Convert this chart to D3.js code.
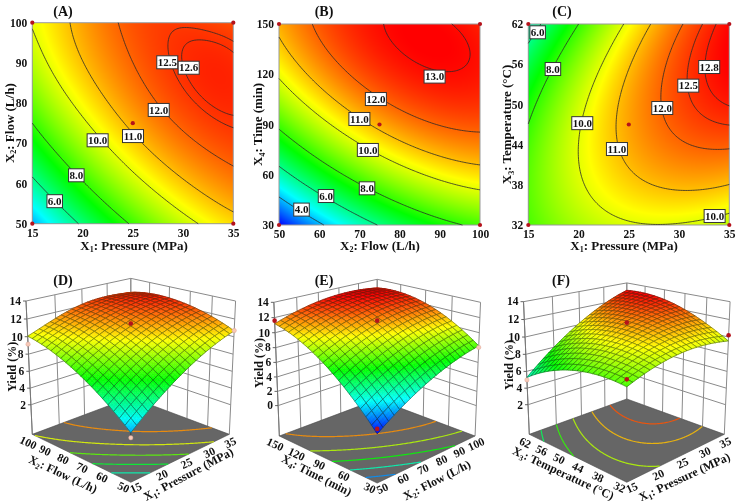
<!DOCTYPE html>
<html><head><meta charset="utf-8">
<style>
html,body{margin:0;padding:0;background:#fff}
#wrap{position:relative;width:736px;height:501px;overflow:hidden;filter:blur(.35px)}
canvas,svg{position:absolute;left:0;top:0}
text{font-family:"Liberation Serif","Times New Roman",serif;font-weight:bold;fill:#111}
</style>
<script src="https://cdn.jsdelivr.net/npm/d3@7"></script>
</head><body><div id="wrap"></div>
<script>
// Yield values at coded levels -1,-0.5,0,0.5,1 (rows: second factor low to high)
const yieldA=[[3.74,6.18,8.14,9.64,10.66],[6.15,8.28,9.95,11.14,11.87],[8.00,9.84,11.20,12.12,12.54],[9.31,10.84,11.91,12.58,12.70],[10.06,11.30,12.20,12.46,12.25]];
const yieldB=[[1.89,4.23,6.07,7.40,8.24],[5.48,7.52,9.05,10.09,10.63],[8.22,9.96,11.20,11.94,12.18],[10.13,11.57,12.50,12.94,12.88],[11.19,12.33,12.97,13.10,12.74]];
const yieldC=[[8.26,9.34,9.90,9.94,9.55],[8.45,9.94,10.91,11.37,11.30],[8.01,9.92,11.30,12.16,12.51],[6.96,9.27,11.06,12.34,13.09],[5.27,8.00,10.20,11.89,13.05]];
const pressureTicks=[15,20,25,30,35];
const flowTicks=[50,60,70,80,90,100];
const timeTicks=[30,60,90,120,150];
const tempTicks=[32,38,44,50,56,62];
const levelsA=[6,8,10,11,12,12.5,12.6];
const levelsB=[4,6,8,10,11,12,13];
const levelsC=[6,8,10,11,12,12.5,12.8];
const labelsA=[[28.43,90.15,"12.5"],[30.56,88.8,"12.6"],[27.58,78.3,"12.0"],[25.02,71.8,"11.0"],[21.5,70.75,"10.0"],[19.38,62.04,"8.0"],[17.23,55.6,"6.0"]];
const labelsB=[[88.7,118.6,"13.0"],[74.1,105.2,"12.0"],[70,93.3,"11.0"],[72.1,74.8,"10.0"],[71.9,51.9,"8.0"],[61.7,47.3,"6.0"],[55.6,39.2,"4.0"]];
const labelsC=[[15.93,60.76,"6.0"],[17.45,55.28,"8.0"],[20.37,47.2,"10.0"],[23.82,43.34,"11.0"],[28.33,49.46,"12.0"],[30.92,52.8,"12.5"],[33,55.58,"12.8"],[33.54,33.34,"10.0"]];
const pointsA=[[15,50],[15,100],[35,50],[35,100],[25,75]];
const pointsB=[[50,30],[50,150],[100,30],[100,150],[75,90]];
const pointsC=[[15,32],[15,62],[35,32],[35,62],[25,47]];
const floorLevelsD=[5.5,7,8.5,10,11.5];
const floorLevelsE=[3.5,5.5,7.5,9.5,11.5];
const floorLevelsF=[6.5,8,9.5,11,12.2];
const zTicksD=[2,4,6,8,10,12,14];
const zTicksE=[0,2,4,6,8,10,12,14];
const zTicksF=[2,4,6,8,10,12,14];
const redD=[[25,75,11.5]];
const paleD=[[15,50,3.2],[15,100,9.15],[35,50,10.7]];
const redE=[[50,30,2.5],[50,150,11.6],[75,90,11.6]];
const paleE=[[100,30,8.04]];
const redF=[[15,32,9.0],[35,32,10.2],[25,47,11.65]];
const paleF=[[15,62,4.99]];

const colorScale=d3.scaleLinear().domain([1.9,4.7,7.5,10.3,13.1])
  .range(["#0000ff","#00ffff","#00ff00","#ffff00","#ff0000"]).clamp(true);

const nodes=[-1,-.5,0,.5,1];
function basis(t){return nodes.map((n,i)=>{let p=1;nodes.forEach((m,j)=>{if(j!==i)p*=(t-m)/(n-m);});return p;});}
function field(g,u,v){const bu=basis(u),bv=basis(v);let s=0;for(let j=0;j<5;j++)for(let i=0;i<5;i++)s+=g[j][i]*bv[j]*bu[i];return s;}

function contourPieces(g,levels){
  const n=121,vals=new Array(n*n);
  for(let j=0;j<n;j++){const bv=basis(-1+2*j/(n-1));for(let i=0;i<n;i++){const bu=basis(-1+2*i/(n-1));let s=0;for(let b=0;b<5;b++)for(let a=0;a<5;a++)s+=g[b][a]*bv[b]*bu[a];vals[j*n+i]=s;}}
  const gen=d3.contours().size([n,n]).thresholds(levels);
  const out=[];
  gen(vals).forEach(c=>{
    c.coordinates.forEach(poly=>poly.forEach(ring=>{
      let cur=[];
      const onB=p=>p[0]<=.5||p[0]>=n-.5||p[1]<=.5||p[1]>=n-.5;
      const map=p=>[Math.max(-1,Math.min(1,-1+2*(p[0]-.5)/(n-1))),Math.max(-1,Math.min(1,-1+2*(p[1]-.5)/(n-1)))];
      for(let k=0;k<ring.length-1;k++){
        const a=ring[k],b=ring[k+1];
        if(onB(a)&&onB(b)){if(cur.length>1)out.push({value:c.value,pts:cur});cur=[];continue;}
        if(!cur.length)cur.push(map(a));
        cur.push(map(b));
      }
      if(cur.length>1)out.push({value:c.value,pts:cur});
    }));
  });
  return out;
}

const wrap=d3.select("#wrap");
const canvas=wrap.append("canvas").attr("width",736).attr("height",501);
const ctx=canvas.node().getContext("2d");
const svg=wrap.append("svg").attr("width",736).attr("height",501);

function subLabel(sel,idx,name){
  sel.append("tspan").text("X");
  sel.append("tspan").attr("dy",2.5).attr("font-size","8px").text(idx);
  sel.append("tspan").attr("dy",-2.5).text(": "+name);
}

const panels2d=[
 {t:"(A)",tx:63,g:yieldA,xd:[15,35],yd:[50,100],x0:32.3,y0:22.7,xt:pressureTicks,yt:flowTicks,lev:levelsA,lab:labelsA,pts:pointsA,xi:"1",xn:"Pressure (MPa)",yi:"2",yn:"Flow (L/h)",ytx:9,xlc:134},
 {t:"(B)",tx:324,g:yieldB,xd:[50,100],yd:[30,150],x0:279,y0:24,xt:flowTicks,yt:timeTicks,lev:levelsB,lab:labelsB,pts:pointsB,xi:"2",xn:"Flow (L/h)",yi:"4",yn:"Time (min)",ytx:257.5,xlc:380},
 {t:"(C)",tx:562,g:yieldC,xd:[15,35],yd:[32,62],x0:528.3,y0:24,xt:pressureTicks,yt:tempTicks,lev:levelsC,lab:labelsC,pts:pointsC,xi:"1",xn:"Pressure (MPa)",yi:"3",yn:"Temperature (°C)",ytx:506.5,xlc:624}
];
const W=201;
panels2d.forEach(p=>{
  const x=d3.scaleLinear().domain(p.xd).range([p.x0,p.x0+W]);
  const y=d3.scaleLinear().domain(p.yd).range([p.y0+W,p.y0]);
  for(let j=0;j<W;j++){const bv=basis(1-2*(j+.5)/W);
    for(let i=0;i<W;i++){const bu=basis(-1+2*(i+.5)/W);let s=0;
      for(let b=0;b<5;b++)for(let a=0;a<5;a++)s+=p.g[b][a]*bv[b]*bu[a];
      ctx.fillStyle=colorScale(s);ctx.fillRect(Math.round(p.x0)+i,Math.round(p.y0)+j,1,1);}}
  const g=svg.append("g");
  g.append("rect").attr("x",p.x0).attr("y",p.y0).attr("width",W).attr("height",W).attr("fill","none").attr("stroke","#999").attr("stroke-width",1);
  const line=d3.line();
  contourPieces(p.g,p.lev).forEach(c=>{
    g.append("path").attr("d",line(c.pts.map(q=>[p.x0+(q[0]+1)/2*W,p.y0+W-(q[1]+1)/2*W]))).attr("fill","none").attr("stroke","#2a2a2a").attr("stroke-width",.8);
  });
  const ax=g.append("g").attr("transform",`translate(0,${p.y0+W})`).call(d3.axisBottom(x).tickValues(p.xt).tickSize(0).tickPadding(5));
  const ay=g.append("g").attr("transform",`translate(${p.x0},0)`).call(d3.axisLeft(y).tickValues(p.yt).tickSize(0).tickPadding(5));
  [ax,ay].forEach(a=>{a.select(".domain").remove();a.selectAll("text").style("font-size","11.5px");a.attr("font-family",null).attr("font-size",null);});
  p.lab.forEach(l=>{
    const cx=x(l[0]),cy=y(l[1]),w=l[2].length>3?21:15.5;
    g.append("rect").attr("x",cx-w/2).attr("y",cy-6.5).attr("width",w).attr("height",13).attr("fill","#fff").attr("stroke","#333").attr("stroke-width",1);
    g.append("text").attr("x",cx).attr("y",cy+3.7).attr("text-anchor","middle").style("font-size","11px").text(l[2]);
  });
  p.pts.forEach(q=>{g.append("circle").attr("cx",x(q[0])).attr("cy",y(q[1])).attr("r",2.1).attr("fill","#b5121b");});
  g.append("text").attr("x",p.tx).attr("y",16).attr("text-anchor","middle").style("font-size","14px").text(p.t);
  subLabel(g.append("text").attr("x",p.xlc).attr("y",249.5).attr("text-anchor","middle").style("font-size","13px"),p.xi,p.xn);
  subLabel(g.append("text").attr("transform",`translate(${p.ytx+4.5},${p.y0+W/2}) rotate(-90)`).attr("text-anchor","middle").style("font-size","13px"),p.yi,p.yn);
});

const panels3d=[
 {t:"(D)",tx:63,g:yieldA,cx:130.8,sx:98.5,cy:434.3,gD:.131,gW:-.06,b:-41.7,c:-125.3,zmin:-1.63,zt:zTicksD,fl:floorLevelsD,red:redD,pale:paleD,xd:[15,35],yd:[50,100],xt:pressureTicks,yt:flowTicks,xi:"1",xn:"Pressure (MPa)",yi:"2",yn:"Flow (L/h)",lt:[63,474,25],rt:[188.3,474,-28],yl:[11.7,366.7]},
 {t:"(E)",tx:324,g:yieldB,cx:377.2,sx:97.85,cy:436,gD:.124,gW:-.053,b:-41.2,c:-126.6,zmin:-4.35,zt:zTicksE,fl:floorLevelsE,red:redE,pale:paleE,xd:[50,100],yd:[30,150],xt:flowTicks,yt:timeTicks,xi:"2",xn:"Flow (L/h)",yi:"4",yn:"Time (min)",lt:[316.7,475,27],rt:[436.7,480,-27],yl:[259.3,363]},
 {t:"(F)",tx:561,g:yieldC,cx:626.8,sx:97.5,cy:434.3,gD:.152,gW:-.056,b:-40.7,c:-125.2,zmin:-1.65,zt:zTicksF,fl:floorLevelsF,red:redF,pale:paleF,xd:[15,35],yd:[32,62],xt:pressureTicks,yt:tempTicks,xi:"1",xn:"Pressure (MPa)",yi:"3",yn:"Temperature (°C)",lt:[563.3,473,25],rt:[684.3,476.7,-25],yl:[509.3,365]}
];
const MESH=20,SUB=3;
panels3d.forEach(p=>{
  const W3=(z)=>(z-p.zmin)/(14-p.zmin);
  const proj=(u,v,w)=>{const X=(u-v)/2,D=(u+v)/2,q=1+p.gD*D+p.gW*w;return [p.cx+p.sx*X/q,p.cy+(p.b*D+p.c*w)/q];};
  const ux=d3.scaleLinear().domain(p.xd).range([-1,1]);
  const vy=d3.scaleLinear().domain(p.yd).range([-1,1]);
  const g=svg.append("g");
  const seg=(a,b,col,sw)=>g.append("line").attr("x1",a[0]).attr("y1",a[1]).attr("x2",b[0]).attr("y2",b[1]).attr("stroke",col).attr("stroke-width",sw);
  p.xt.forEach(t=>{const u=ux(t);seg(proj(u,1,0),proj(u,1,1),"#8a8a8a",1);});
  p.yt.forEach(t=>{const v=vy(t);seg(proj(1,v,0),proj(1,v,1),"#8a8a8a",1);});
  seg(proj(-1,1,0),proj(-1,1,1),"#777",1);
  p.zt.forEach(z=>{const w=W3(z),a=proj(-1,1,w);
    seg(a,proj(1,1,w),"#8a8a8a",1);seg(proj(1,1,w),proj(1,-1,w),"#8a8a8a",1);
    seg([a[0]-3,a[1]],a,"#555",.9);
    g.append("text").attr("x",a[0]-5).attr("y",a[1]+3.8).attr("text-anchor","end").style("font-size","11.5px").text(z);
  });
  const corners=[proj(-1,1,0),proj(1,1,0),proj(1,-1,0),proj(-1,-1,0)];
  g.append("path").attr("d",d3.line()(corners)+"Z").attr("fill","#666").attr("stroke","#444").attr("stroke-width",.6);
  contourPieces(p.g,p.fl).forEach(c=>{
    g.append("path").attr("d",d3.line()(c.pts.map(q=>proj(q[0],q[1],0)))).attr("fill","none").attr("stroke",colorScale(c.value)).attr("stroke-width",1.2).attr("opacity",.85);
  });
  p.yt.forEach(t=>{const v=vy(t),a=proj(-1,v,0),s=(1-v)/2;
    g.append("text").attr("transform",`translate(${a[0]-4-3.2*s},${a[1]+8.2-3.4*s}) rotate(25)`).attr("dy",".35em").attr("text-anchor","middle").style("font-size","11.5px").text(t);});
  p.xt.forEach(t=>{const u=ux(t),a=proj(u,-1,0),s=(u+1)/2;
    g.append("text").attr("transform",`translate(${a[0]+5-4*s},${a[1]+5.2+2.8*s}) rotate(-25)`).attr("dy",".35em").attr("text-anchor","middle").style("font-size","11.5px").text(t);});
  subLabel(g.append("text").attr("transform",`translate(${p.lt[0]},${p.lt[1]}) rotate(${p.lt[2]})`).attr("dy",".35em").attr("text-anchor","middle").style("font-size","12px"),p.yi,p.yn);
  subLabel(g.append("text").attr("transform",`translate(${p.rt[0]},${p.rt[1]}) rotate(${p.rt[2]})`).attr("dy",".35em").attr("text-anchor","middle").style("font-size","12px"),p.xi,p.xn);
  g.append("text").attr("transform",`translate(${p.yl[0]+4},${p.yl[1]}) rotate(-90)`).attr("text-anchor","middle").style("font-size","12px").text("Yield (%)");
  g.append("text").attr("x",p.tx).attr("y",285).attr("text-anchor","middle").style("font-size","14px").text(p.t);
  const cells=[];
  for(let j=0;j<MESH;j++)for(let i=0;i<MESH;i++)cells.push([i,j]);
  cells.sort((a,b)=>(b[0]+b[1])-(a[0]+a[1]));
  const cu=i=>-1+2*i/MESH;
  const pt=(u,v)=>proj(u,v,W3(field(p.g,u,v)));
  cells.forEach(([i,j])=>{
    const cellG=g.append("g");
    for(let b=0;b<SUB;b++)for(let a=0;a<SUB;a++){
      const u0=cu(i+a/SUB),u1=cu(i+(a+1)/SUB),v0=cu(j+b/SUB),v1=cu(j+(b+1)/SUB);
      const col=colorScale(field(p.g,(u0+u1)/2,(v0+v1)/2));
      cellG.append("path").attr("d",d3.line()([pt(u0,v0),pt(u1,v0),pt(u1,v1),pt(u0,v1)])+"Z").attr("fill",col).attr("stroke",col).attr("stroke-width",.5);
    }
    const u0=cu(i),u1=cu(i+1),v0=cu(j),v1=cu(j+1);
    const ring=[];
    for(let k=0;k<=SUB;k++)ring.push(pt(cu(i+k/SUB),v0));
    for(let k=1;k<=SUB;k++)ring.push(pt(u1,cu(j+k/SUB)));
    for(let k=1;k<=SUB;k++)ring.push(pt(cu(i+1-k/SUB),v1));
    for(let k=1;k<SUB;k++)ring.push(pt(u0,cu(j+1-k/SUB)));
    cellG.append("path").attr("d",d3.line()(ring)+"Z").attr("fill","none").attr("stroke","#142414").attr("stroke-width",.6).attr("stroke-opacity",.7);
  });
  p.pale.forEach(q=>{
    const u=ux(q[0]),v=vy(q[1]),a=proj(u,v,W3(q[2]));
    if(u===-1&&v===-1){const s=proj(u,v,W3(field(p.g,u,v)));seg(s,a,"#333",.8);}
    g.append("circle").attr("cx",a[0]).attr("cy",a[1]).attr("r",2.2).attr("fill","#f6c9b8").attr("stroke","#d89a8a").attr("stroke-width",.4);
  });
  p.red.forEach(q=>{
    const a=proj(ux(q[0]),vy(q[1]),W3(q[2]));
    g.append("circle").attr("cx",a[0]).attr("cy",a[1]).attr("r",2.3).attr("fill","#b5121b");
  });
});
</script></body></html>
